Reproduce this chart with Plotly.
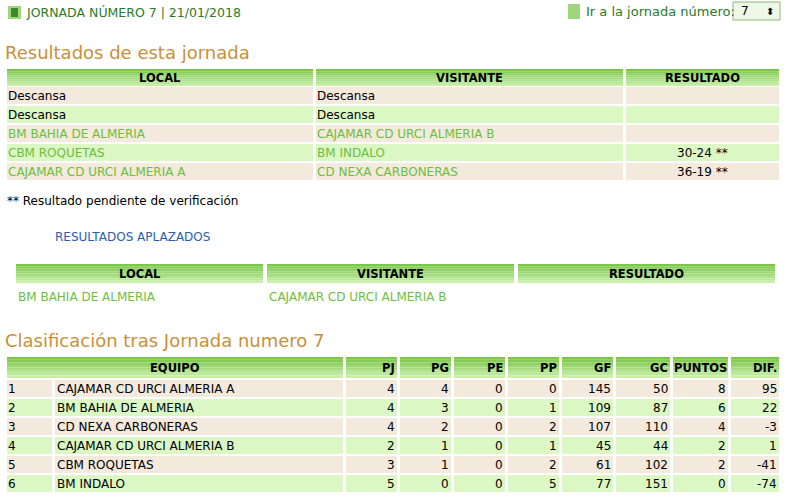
import plotly.graph_objects as go

W, H = 790, 499
F = "DejaVu Sans"
GREEN_TXT = "#6cbf3c"
TITLE = "#c8903a"
BEIGE = "#f3e9dc"
LGREEN = "#dbf7c4"

res_header = ["LOCAL", "VISITANTE", "RESULTADO"]
res_local = ["Descansa", "Descansa", "BM BAHIA DE ALMERIA", "CBM ROQUETAS", "CAJAMAR CD URCI ALMERIA A"]
res_visit = ["Descansa", "Descansa", "CAJAMAR CD URCI ALMERIA B", "BM INDALO", "CD NEXA CARBONERAS"]
res_score = ["", "", "", "30-24 **", "36-19 **"]

apl_local = ["BM BAHIA DE ALMERIA"]
apl_visit = ["CAJAMAR CD URCI ALMERIA B"]

cl_header = ["EQUIPO", "PJ", "PG", "PE", "PP", "GF", "GC", "PUNTOS", "DIF."]
cl_pos = [1, 2, 3, 4, 5, 6]
cl_team = ["CAJAMAR CD URCI ALMERIA A", "BM BAHIA DE ALMERIA", "CD NEXA CARBONERAS",
           "CAJAMAR CD URCI ALMERIA B", "CBM ROQUETAS", "BM INDALO"]
cl_pj = [4, 4, 4, 2, 3, 5]
cl_pg = [4, 3, 2, 1, 1, 0]
cl_pe = [0, 0, 0, 0, 0, 0]
cl_pp = [0, 1, 2, 1, 2, 5]
cl_gf = [145, 109, 107, 45, 61, 77]
cl_gc = [50, 87, 110, 44, 102, 151]
cl_pts = [8, 6, 4, 2, 2, 0]
cl_dif = [95, 22, -3, 1, -41, -74]

TS = 12     # body text size
HS = 11.5   # header text size

shapes, ann = [], []

def rect(x0, y0, x1, y1, color):
    shapes.append(dict(type="rect", xref="x", yref="y", x0=x0, x1=x1, y0=y0, y1=y1,
                       fillcolor=color, line=dict(width=0), layer="below"))

def grad(x0, y0, x1, y1):
    n = 8
    top, bot = (122, 198, 72), (200, 238, 170)
    for i in range(n):
        t = i / (n - 1)
        c = tuple(int(top[k] + (bot[k] - top[k]) * t) for k in range(3))
        rect(x0, y0 + (y1 - y0) * i / n, x1, y0 + (y1 - y0) * (i + 1) / n, "rgb(%d,%d,%d)" % c)

def text(x, y, s, size=TS, color="black", anchor="left", bold=False, family=F):
    if bold:
        s = "<b>%s</b>" % s
    ann.append(dict(x=x, y=y, xref="x", yref="y", text=s, showarrow=False, xanchor=anchor,
                    yanchor="middle", font=dict(family=family, size=size, color=color)))

# top bar
rect(8, 6, 21, 19, "#9fd67c")
rect(11, 8, 18, 17, "#3a8a2a")
text(24, 12, "JORNADA NÚMERO 7 | 21/01/2018", 12.5, "#2a7a2a")
rect(568, 4, 580, 19, "#9fd67c")
text(584, 11, "Ir a la jornada número:", 13, "#2a7a2a")
shapes.append(dict(type="rect", xref="x", yref="y", x0=733, x1=780, y0=2, y1=20,
                   fillcolor="#eef8e6", line=dict(color="#8ab87a", width=1)))
text(739, 11, "7", TS)
text(776, 11, "⬍", 10, anchor="right")

# section 1
text(3, 52, "Resultados de esta jornada", 18, TITLE)
cols1 = [(7, 313), (316, 623), (626, 779)]
for (a, b), h in zip(cols1, res_header):
    grad(a, 69, b, 86)
    text((a + b) / 2, 77.5, h, HS, anchor="center", bold=True)
for i in range(len(res_local)):
    y0 = 87 + i * 19
    bg = BEIGE if i % 2 == 0 else LGREEN
    for a, b in cols1:
        rect(a, y0, b, y0 + 17, bg)
    c = "black" if res_local[i] == "Descansa" else GREEN_TXT
    text(6, y0 + 8.5, res_local[i], TS, c)
    c = "black" if res_visit[i] == "Descansa" else GREEN_TXT
    text(315, y0 + 8.5, res_visit[i], TS, c)
    text(730, y0 + 8.5, res_score[i], TS, anchor="right")
text(5, 201, "** Resultado pendiente de verificación", TS)
text(53, 237, "RESULTADOS APLAZADOS", TS, "#2a5db0")

cols2 = [(16, 263), (267, 514), (518, 775)]
for (a, b), h in zip(cols2, res_header):
    grad(a, 264, b, 283)
    text((a + b) / 2, 273.5, h, HS, anchor="center", bold=True)
for i in range(len(apl_local)):
    y = 297 + i * 19
    text(16, y, apl_local[i], TS, GREEN_TXT)
    text(267, y, apl_visit[i], TS, GREEN_TXT)

# section 3
text(3, 340, "Clasificación tras Jornada numero 7", 18, TITLE)
cols3 = [(7, 52), (55, 343), (346, 397), (400, 451), (454, 505), (508, 559),
         (562, 613), (616, 670), (673, 728), (731, 779)]
grad(7, 357, 343, 378)
text(175, 367.5, cl_header[0], HS, anchor="center", bold=True)
for (a, b), h in zip(cols3[2:], cl_header[1:]):
    grad(a, 357, b, 378)
    if h == "PUNTOS":
        text((a + b) / 2, 367.5, h, HS, anchor="center", bold=True)
    else:
        text(b, 367.5, h, HS, anchor="right", bold=True)
numcols = [cl_pj, cl_pg, cl_pe, cl_pp, cl_gf, cl_gc, cl_pts, cl_dif]
for i in range(len(cl_team)):
    y0 = 380 + i * 19
    bg = BEIGE if i % 2 == 0 else LGREEN
    for a, b in cols3:
        rect(a, y0, b, y0 + 17, bg)
    yc = y0 + 8.5
    text(6, yc, str(cl_pos[i]), TS)
    text(55, yc, cl_team[i], TS)
    for (a, b), arr in zip(cols3[2:], numcols):
        text(b, yc, str(arr[i]), TS, anchor="right")

fig = go.Figure()
fig.update_layout(width=W, height=H, margin=dict(l=0, r=0, t=0, b=0),
                  paper_bgcolor="white", plot_bgcolor="white",
                  xaxis=dict(range=[0, W], visible=False, fixedrange=True),
                  yaxis=dict(range=[H, 0], visible=False, fixedrange=True),
                  shapes=shapes, annotations=ann, showlegend=False)
fig.write_html("out.html", config={"displayModeBar": False},
               post_script="document.body.style.margin='0';document.body.style.overflow='hidden';")
